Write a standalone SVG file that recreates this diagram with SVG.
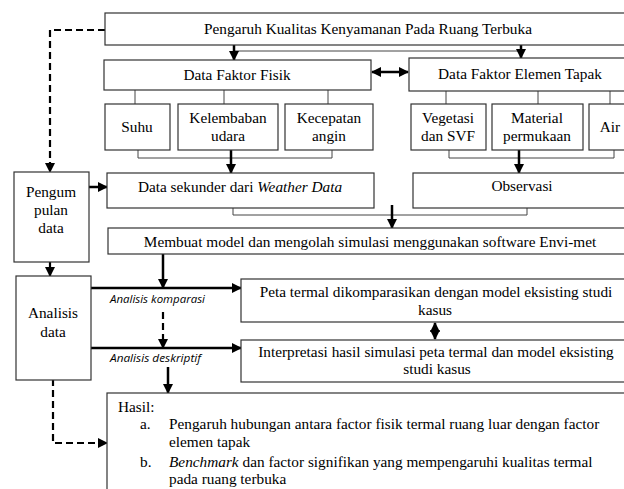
<svg xmlns="http://www.w3.org/2000/svg" width="624" height="489" viewBox="0 0 624 489">
<style>
.box{fill:#fff;stroke:#333;stroke-width:1.2}
.t{font-family:"Liberation Serif",serif;font-size:15.3px;fill:#000;text-anchor:middle}
.l{font-family:"Liberation Serif",serif;font-size:15.3px;fill:#000}
.i{font-family:"Open Sans",sans-serif;font-style:italic;font-size:11px;fill:#000}
.thin{fill:none;stroke:#444;stroke-width:1}
.thick{fill:none;stroke:#000;stroke-width:2.5}
.dash{fill:none;stroke:#000;stroke-width:2.2;stroke-dasharray:7,4}
</style>
<defs>
<marker id="ah" markerUnits="userSpaceOnUse" markerWidth="10" markerHeight="10" viewBox="0 0 10 10" refX="9" refY="5" orient="auto">
<path d="M0,0 L10,5 L0,10 z" fill="#000"/>
</marker>
<marker id="as" markerUnits="userSpaceOnUse" markerWidth="10" markerHeight="10" viewBox="0 0 10 10" refX="1" refY="5" orient="auto">
<path d="M10,0 L0,5 L10,10 z" fill="#000"/>
</marker>
</defs>
<rect width="624" height="489" fill="#fff"/>

<g id="connectors">
<line class="thin" x1="234" y1="51" x2="521" y2="51"/>
<line class="thick" x1="234" y1="45" x2="234" y2="60" marker-end="url(#ah)"/>
<line class="thick" x1="521" y1="45" x2="521" y2="58" marker-end="url(#ah)"/>
<line class="thick" x1="372" y1="72" x2="408" y2="72" marker-start="url(#as)" marker-end="url(#ah)"/>
<path class="thin" d="M135,90V104M224,90V104M328,90V104M446,91V104M538,91V104M610,91V104"/>
<polyline class="thin" points="138,150 138,158 332,158 332,150"/>
<polyline class="thin" points="449,150 449,158 614,158 614,150"/>
<line class="thick" x1="231" y1="150" x2="231" y2="173" marker-end="url(#ah)"/>
<line class="thick" x1="519" y1="150" x2="519" y2="173" marker-end="url(#ah)"/>
<polyline class="thin" points="233,208 233,215 527,215 527,208"/>
<line class="thick" x1="392" y1="205" x2="392" y2="228" marker-end="url(#ah)"/>
<line class="thick" x1="89" y1="187" x2="107" y2="187" marker-end="url(#ah)"/>
<polyline class="dash" points="105,30 50,30 50,172" marker-end="url(#ah)"/>
<line class="dash" x1="50" y1="262" x2="50" y2="276" marker-end="url(#ah)"/>
<line class="thick" x1="163" y1="254" x2="163" y2="288" marker-end="url(#ah)"/>
<line class="thick" x1="91" y1="288" x2="241" y2="288" marker-end="url(#ah)"/>
<line class="dash" x1="163" y1="312" x2="163" y2="348" marker-end="url(#ah)"/>
<line class="thick" x1="91" y1="348" x2="241" y2="348" marker-end="url(#ah)"/>
<line class="thick" x1="168" y1="367" x2="168" y2="393" marker-end="url(#ah)"/>
<line class="thick" x1="435" y1="323" x2="435" y2="339" marker-start="url(#as)" marker-end="url(#ah)"/>
<polyline class="dash" points="53,368 53,443 107,443" marker-end="url(#ah)"/>
</g>

<g id="n-top"><rect class="box" x="105" y="13" width="526" height="32"/><text class="t" x="368" y="34">Pengaruh Kualitas Kenyamanan Pada Ruang Terbuka</text></g>
<g id="n-fisik"><rect class="box" x="104" y="60" width="267" height="30"/><text class="t" x="237" y="80">Data Faktor Fisik</text></g>
<g id="n-elemen"><rect class="box" x="409" y="58" width="222" height="33"/><text class="t" x="520" y="79">Data Faktor Elemen Tapak</text></g>
<g id="n-suhu"><rect class="box" x="105" y="104" width="65" height="46"/><text class="t" x="137" y="132">Suhu</text></g>
<g id="n-kelembaban"><rect class="box" x="178" y="104" width="100" height="46"/><text class="t" x="228" y="123">Kelembaban</text><text class="t" x="228" y="141">udara</text></g>
<g id="n-kecepatan"><rect class="box" x="285" y="104" width="88" height="46"/><text class="t" x="329" y="123">Kecepatan</text><text class="t" x="329" y="141">angin</text></g>
<g id="n-vegetasi"><rect class="box" x="411" y="104" width="75" height="46"/><text class="t" x="448" y="123">Vegetasi</text><text class="t" x="448" y="141">dan SVF</text></g>
<g id="n-material"><rect class="box" x="492" y="104" width="91" height="46"/><text class="t" x="537" y="123">Material</text><text class="t" x="537" y="141">permukaan</text></g>
<g id="n-air"><rect class="box" x="589" y="104" width="42" height="46"/><text class="t" x="610" y="132">Air</text></g>
<g id="n-sekunder"><rect class="box" x="107" y="173" width="267" height="35"/><text class="t" x="240" y="192">Data sekunder dari <tspan font-style="italic">Weather Data</tspan></text></g>
<g id="n-observasi"><rect class="box" x="413" y="173" width="218" height="35"/><text class="t" x="522" y="191">Observasi</text></g>
<g id="n-membuat"><rect class="box" x="108" y="228" width="523" height="26"/><text class="t" x="370" y="247">Membuat model dan mengolah simulasi menggunakan software Envi-met</text></g>
<g id="n-pengum"><rect class="box" x="14" y="172" width="75" height="90"/><text class="t" x="51" y="197">Pengum</text><text class="t" x="51" y="215">pulan</text><text class="t" x="51" y="233">data</text></g>
<g id="n-analisis"><rect class="box" x="16" y="276" width="75" height="104"/><text class="t" x="53" y="318">Analisis</text><text class="t" x="53" y="337">data</text></g>
<g id="n-peta"><rect class="box" x="241" y="279" width="390" height="43"/><text class="t" x="436" y="297">Peta termal dikomparasikan dengan model eksisting studi</text><text class="t" x="435" y="315">kasus</text></g>
<g id="n-interpretasi"><rect class="box" x="241" y="340" width="390" height="42"/><text class="t" x="436" y="357">Interpretasi hasil simulasi peta termal dan model eksisting</text><text class="t" x="437" y="374">studi kasus</text></g>
<g id="n-hasil"><rect class="box" x="107" y="393" width="524" height="100"/>
<text class="l" x="118" y="412">Hasil:</text>
<text class="l" x="140" y="429">a.</text><text class="l" x="169" y="429">Pengaruh hubungan antara factor fisik termal ruang luar dengan factor</text>
<text class="l" x="169" y="447">elemen tapak</text>
<text class="l" x="140" y="467">b.</text><text class="l" x="169" y="467"><tspan font-style="italic">Benchmark</tspan> dan factor signifikan yang mempengaruhi kualitas termal</text>
<text class="l" x="169" y="484">pada ruang terbuka</text>
</g>
<g id="labels">
<text class="i" x="110" y="303" textLength="95" lengthAdjust="spacingAndGlyphs">Analisis komparasi</text>
<text class="i" x="110" y="362" textLength="91" lengthAdjust="spacingAndGlyphs">Analisis deskriptif</text>
</g>
</svg>
